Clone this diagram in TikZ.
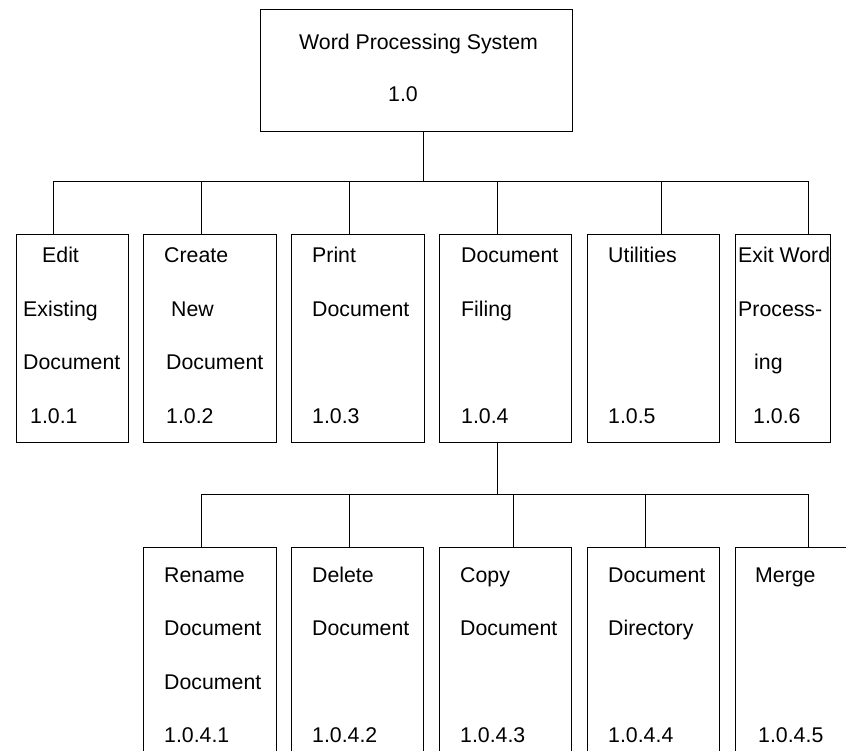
\documentclass[tikz,border=0pt]{standalone}
\usepackage{fontspec}
\setmainfont{Liberation Sans}
\usetikzlibrary{positioning}
\newcommand{\boxlines}[1]{\begin{tabular}[t]{@{}l@{}}#1\end{tabular}}

\begin{document}
\begin{tikzpicture}[x=1pt,y=-1pt,
  blk/.style={draw,line width=1pt,anchor=north west,inner sep=0pt,minimum height=208pt},
  lab/.style={anchor=base west,inner sep=0pt,font=\fontsize{21.3}{53.5}\selectfont},
  ln/.style={line width=1pt}]
\useasboundingbox (0,0) rectangle (846,751);
\clip (0,0) rectangle (846,751);
% top level
\node[blk,minimum width=312pt,minimum height=122pt] (wps) at (260,9) {};
\node[lab] (wpsT) at (299,50) {\boxlines{Word Processing System\\[-1.5pt]\hspace*{89pt}1.0}};
% second level
\node[blk,minimum width=112pt] (edit) at (16,234) {};
\node[blk,minimum width=133pt] (create) at (143,234) {};
\node[blk,minimum width=133pt] (print) at (291,234) {};
\node[blk,minimum width=132pt] (filing) at (439,234) {};
\node[blk,minimum width=132pt] (util) at (587,234) {};
\node[blk,minimum width=95pt] (exit) at (735,234) {};
\node[lab] (editT) at (23,263) {\boxlines{\hspace*{19pt}Edit\\Existing\\Document\\\hspace*{7pt}1.0.1}};
\node[lab] (createT) at (164,263) {\boxlines{Create\\\hspace*{7pt}New\\\hspace*{2pt}Document\\\hspace*{2pt}1.0.2}};
\node[lab] (printT) at (312,263) {\boxlines{Print\\Document\\\\1.0.3}};
\node[lab] (filingT) at (461,263) {\boxlines{Document\\Filing\\\\1.0.4}};
\node[lab] (utilT) at (608,263) {\boxlines{Utilities\\\\\\1.0.5}};
\node[lab] (exitT) at (738,263) {\boxlines{Exit Word\\Process-\\\hspace*{16pt}ing\\\hspace*{15pt}1.0.6}};
% third level (document filing)
\node[blk,minimum width=133pt,minimum height=230pt] (rename) at (143,547) {};
\node[blk,minimum width=132pt,minimum height=230pt] (delete) at (291,547) {};
\node[blk,minimum width=132pt,minimum height=230pt] (copy) at (439,547) {};
\node[blk,minimum width=132pt,minimum height=230pt] (dir) at (587,547) {};
\node[blk,minimum width=132pt,minimum height=230pt] (merge) at (735,547) {};
\node[lab] (renameT) at (164,582) {\boxlines{Rename\\Document\\Document\\1.0.4.1}};
\node[lab] (deleteT) at (312,582) {\boxlines{Delete\\Document\\\\1.0.4.2}};
\node[lab] (copyT) at (460,582) {\boxlines{Copy\\Document\\\\1.0.4.3}};
\node[lab] (dirT) at (608,582) {\boxlines{Document\\Directory\\\\1.0.4.4}};
\node[lab] (mergeT) at (755,582) {\boxlines{Merge\\\\\\\hspace*{3pt}1.0.4.5}};
% connectors
\coordinate (busA) at (423,182);
\coordinate (busB) at (497,494);
\draw[ln] (wps.south -| busA) -- (busA);
\foreach \n/\d in {edit/37,create/58,print/58,filing/58,util/74,exit/73}
  \draw[ln] ([xshift=\d pt]\n.north west) |- (busA);
\draw[ln] (filing.south -| busB) -- (busB);
\foreach \n/\d in {rename/58,delete/58,copy/74,dir/58,merge/73}
  \draw[ln] ([xshift=\d pt]\n.north west) |- (busB);
\end{tikzpicture}
\end{document}
